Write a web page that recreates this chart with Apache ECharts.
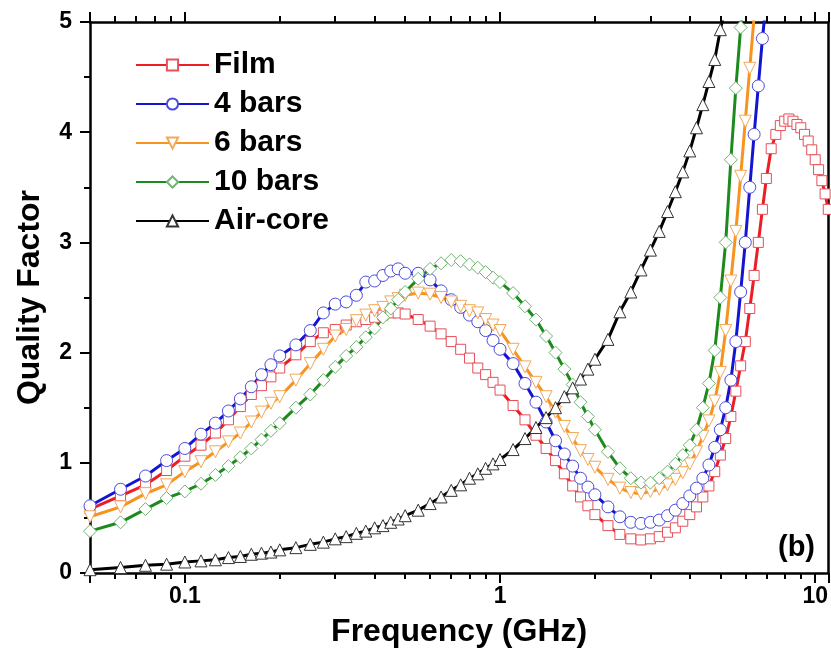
<!DOCTYPE html>
<html>
<head>
<meta charset="utf-8">
<script src="https://cdn.jsdelivr.net/npm/echarts@6/dist/echarts.min.js"></script>
<style>
  html, body { margin: 0; padding: 0; background: #fff; }
  #chart { width: 831px; height: 654px; }
</style>
</head>
<body>
<div id="chart"></div>
<script>
// frequency grid (GHz) shared by every trace
const FREQ = [
  0.05, 0.0625, 0.075, 0.0875, 0.1, 0.1125, 0.125, 0.1375, 0.15, 0.1625, 0.175, 0.1875,
  0.2, 0.225, 0.25, 0.275, 0.3, 0.325, 0.35, 0.375, 0.4, 0.425, 0.45, 0.475,
  0.5, 0.55, 0.6, 0.65, 0.7, 0.75, 0.8, 0.85, 0.9, 0.95,
  1.0, 1.1, 1.2, 1.3, 1.4, 1.5, 1.6, 1.7, 1.8, 1.9,
  2.0, 2.2, 2.4, 2.6, 2.8, 3.0, 3.2, 3.4, 3.6, 3.8,
  4.0, 4.2, 4.4, 4.6, 4.8, 5.0, 5.2, 5.4, 5.6, 5.8,
  6.0, 6.2, 6.4, 6.6, 6.8, 7.0, 7.25, 7.5, 7.75, 8.0,
  8.25, 8.5, 8.75, 9.0, 9.25, 9.5, 9.75, 10, 10.25, 10.5, 10.75, 11,
]

const FILM_Q = [
  0.58, 0.70, 0.80, 0.93, 1.06, 1.16, 1.27, 1.39, 1.51, 1.62, 1.70, 1.78,
  1.86, 1.98, 2.10, 2.18, 2.21, 2.25, 2.28, 2.30, 2.32, 2.34, 2.36, 2.36,
  2.35, 2.30, 2.24, 2.17, 2.10, 2.03, 1.95, 1.86, 1.80, 1.73,
  1.66, 1.52, 1.39, 1.25, 1.13, 1.02, 0.90, 0.79, 0.69, 0.61,
  0.53, 0.43, 0.35, 0.31, 0.30, 0.31, 0.33, 0.37, 0.41, 0.47,
  0.53, 0.60, 0.69, 0.79, 0.92, 1.07, 1.22, 1.42, 1.65, 1.88,
  2.10, 2.40, 2.70, 3.00, 3.30, 3.58, 3.85, 3.98, 4.06, 4.10,
  4.12, 4.10, 4.07, 4.04, 3.98, 3.92, 3.84, 3.75, 3.66, 3.56, 3.44, 3.30,
]

const BARS4_Q = [
  0.61, 0.76, 0.88, 1.02, 1.13, 1.26, 1.36, 1.47, 1.58, 1.69, 1.80, 1.89,
  1.97, 2.07, 2.20, 2.36, 2.44, 2.46, 2.52, 2.64, 2.65, 2.70, 2.74, 2.76,
  2.72, 2.72, 2.66, 2.56, 2.48, 2.41, 2.34, 2.28, 2.20, 2.11,
  2.03, 1.90, 1.72, 1.55, 1.37, 1.20, 1.08, 0.97, 0.86, 0.78,
  0.71, 0.60, 0.51, 0.46, 0.45, 0.46, 0.48, 0.52, 0.57, 0.63,
  0.70, 0.77, 0.86, 0.98, 1.14, 1.30, 1.50, 1.75, 2.10, 2.55,
  3.00, 3.50, 3.98, 4.42, 4.85, 5.20,
]

const BARS6_Q = [
  0.51, 0.60, 0.72, 0.80, 0.92, 1.01, 1.10, 1.19, 1.27, 1.37, 1.46, 1.54,
  1.60, 1.75, 1.90, 2.03, 2.15, 2.21, 2.29, 2.34, 2.38, 2.41, 2.46, 2.49,
  2.52, 2.54, 2.53, 2.50, 2.46, 2.42, 2.38, 2.36, 2.30, 2.25,
  2.20, 2.03, 1.87, 1.73, 1.60, 1.46, 1.33, 1.22, 1.11, 1.03,
  0.96, 0.85, 0.77, 0.73, 0.72, 0.74, 0.76, 0.80, 0.85, 0.91,
  0.99, 1.10, 1.24, 1.38, 1.56, 1.82, 2.20, 2.65, 3.10, 3.60,
  4.10, 4.58, 5.05, 5.40,
]

const BARS10_Q = [
  0.38, 0.46, 0.58, 0.68, 0.74, 0.81, 0.89, 0.97, 1.05, 1.13, 1.21, 1.29,
  1.36, 1.50, 1.62, 1.75, 1.87, 1.97, 2.05, 2.14, 2.22, 2.32, 2.40, 2.48,
  2.55, 2.67, 2.76, 2.81, 2.84, 2.83, 2.80, 2.77, 2.73, 2.68,
  2.64, 2.54, 2.42, 2.30, 2.15, 2.00, 1.85, 1.71, 1.55, 1.42,
  1.30, 1.10, 0.95, 0.86, 0.82, 0.82, 0.86, 0.92, 0.99, 1.07,
  1.16, 1.30, 1.50, 1.72, 2.02, 2.50, 3.00, 3.75, 4.40, 4.95,
  5.40,
]

const AIR_Q = [
  0.03, 0.05, 0.07, 0.08, 0.10, 0.11, 0.12, 0.14, 0.15, 0.17, 0.18, 0.19,
  0.21, 0.23, 0.26, 0.28, 0.31, 0.33, 0.36, 0.38, 0.41, 0.43, 0.46, 0.49,
  0.52, 0.57, 0.63, 0.69, 0.75, 0.80, 0.86, 0.90, 0.95, 0.99,
  1.03, 1.12, 1.22, 1.32, 1.41, 1.50, 1.60, 1.68, 1.76, 1.85,
  1.94, 2.12, 2.37, 2.55, 2.75, 2.93, 3.10, 3.28, 3.46, 3.64,
  3.83, 4.04, 4.25, 4.46, 4.66, 4.93, 5.15,
]

const X_MIN = 0.05
const X_MAX = 11
const X_LABELS = [0.1, 1, 10]
// minor ticks sit at k * 10^n
const X_MINOR_K = [2, 3, 4, 5, 6, 7, 8, 9]

const TRACES = [
  { name: 'Film',     q: FILM_Q,   color: '#ee1c24', edge: '#e5505a', symbol: 'rect',     size: 10, rot: 0 },
  { name: '4 bars',   q: BARS4_Q,  color: '#1414d2', edge: '#4b4bdc', symbol: 'circle',   size: 12, rot: 0 },
  { name: '6 bars',   q: BARS6_Q,  color: '#f7931e', edge: '#f3a857', symbol: 'triangle', size: 12, rot: 180 },
  { name: '10 bars',  q: BARS10_Q, color: '#1d8a1d', edge: '#6fb46f', symbol: 'diamond',  size: 13, rot: 0 },
  { name: 'Air-core', q: AIR_Q,    color: '#000000', edge: '#333333', symbol: 'triangle', size: 12, rot: 0 },
]

const FONT = "'Liberation Sans', Arial, sans-serif"

const series = TRACES.map((t) => ({
  name: t.name,
  type: 'line',
  xAxisIndex: 0,
  yAxisIndex: 0,
  symbol: t.symbol,
  symbolSize: t.size,
  symbolRotate: t.rot,
  showAllSymbol: true,
  lineStyle: { color: t.color, width: 3 },
  itemStyle: { color: '#ffffff', borderColor: t.edge, borderWidth: 1 },
  data: t.q.map((q, i) => [FREQ[i], q]),
}))

// a log axis whose extent is divided by k puts its decade ticks at k * 10^n of the data axis
const tickAxis = (position, len, k, lineShow) => ({
  type: 'log', logBase: 10,
  gridIndex: 0,
  position,
  min: X_MIN / k,
  max: X_MAX / k,
  splitLine: { show: false },
  axisLine: { show: lineShow, onZero: false, lineStyle: { color: '#000', width: 2.5 } },
  axisTick: { show: true, length: len, lineStyle: { color: '#000', width: 2 } },
  axisLabel: { show: false },
})

const xAxis = [
  {
    type: 'log', logBase: 10, min: X_MIN, max: X_MAX, gridIndex: 0, position: 'bottom',
    splitLine: { show: false },
    axisLine: { show: true, onZero: false, lineStyle: { color: '#000', width: 2.5 } },
    axisTick: { show: true, length: 10, lineStyle: { color: '#000', width: 2 } },
    axisLabel: {
      show: true, customValues: X_LABELS, margin: 12,
      color: '#000', fontSize: 23, fontWeight: 'bold', fontFamily: FONT,
      formatter: (v) => String(+(+v).toPrecision(3)),
    },
    name: 'Frequency (GHz)', nameLocation: 'middle', nameGap: 43,
    nameTextStyle: { color: '#000', fontSize: 32, fontWeight: 'bold', fontFamily: FONT },
  },
  tickAxis('top', 10, 1, true),
  ...X_MINOR_K.map((k) => tickAxis('bottom', 6, k, false)),
  ...X_MINOR_K.map((k) => tickAxis('top', 6, k, false)),
]

const chart = echarts.init(document.getElementById('chart'), null, { renderer: 'canvas' })
chart.setOption({
  backgroundColor: '#fff',
  animation: false,
  grid: { left: 90, right: 2, top: 22, bottom: 81 },
  legend: {
    orient: 'vertical',
    left: 130, top: 45,
    itemWidth: 73, itemHeight: 14, itemGap: 9,
    textStyle: { color: '#000', fontSize: 30, lineHeight: 30, fontWeight: 'bold', fontFamily: FONT },
    data: TRACES.map((t) => t.name),
  },
  xAxis,
  yAxis: [
    {
      type: 'value', min: 0, max: 5, interval: 1, position: 'left',
      splitLine: { show: false },
      axisLine: { show: true, onZero: false, lineStyle: { color: '#000', width: 2.5 } },
      axisTick: { show: true, length: 10, lineStyle: { color: '#000', width: 2 } },
      minorTick: { show: true, splitNumber: 2, length: 6, lineStyle: { color: '#000', width: 2 } },
      axisLabel: { color: '#000', fontSize: 23, fontWeight: 'bold', fontFamily: FONT, margin: 18 },
      name: 'Quality Factor', nameLocation: 'middle', nameGap: 44,
      nameTextStyle: { color: '#000', fontSize: 32, fontWeight: 'bold', fontFamily: FONT },
    },
    {
      type: 'value', min: 0, max: 5, position: 'right',
      splitLine: { show: false },
      axisLine: { show: true, onZero: false, lineStyle: { color: '#000', width: 2.5 } },
      axisTick: { show: false },
      axisLabel: { show: false },
    },
  ],
  graphic: [
    {
      type: 'text', left: 778, top: 533,
      style: { text: '(b)', fill: '#000', font: `bold 29px ${FONT}` },
    },
  ],
  series,
})
</script>
</body>
</html>
